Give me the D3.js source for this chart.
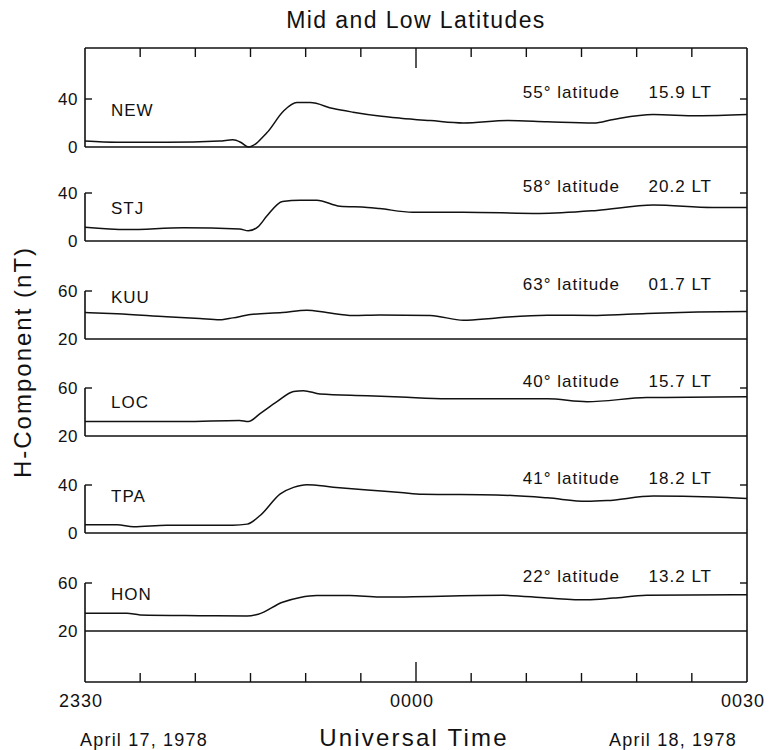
<!DOCTYPE html>
<html>
<head>
<meta charset="utf-8">
<script src="https://cdn.jsdelivr.net/npm/d3@7"></script>
<style>
  body { margin: 0; background: #fff; }
  text { font-family: "Liberation Sans", Arial, Helvetica, sans-serif; fill: #111; }
</style>
</head>
<body>
<div id="chart"></div>
<script>
// minutes after 2330 UT on April 17, 1978
const stations = ["NEW", "STJ", "KUU", "LOC", "TPA", "HON"];
const latitudes = [55, 58, 63, 40, 41, 22];
const localTimes = ["15.9", "20.2", "01.7", "15.7", "18.2", "13.2"];
const lowTicks = [0, 0, 20, 20, 0, 20];
const highTicks = [40, 40, 60, 60, 40, 60];

const timeTickLabels = ["2330", "0000", "0030"];

// H-component (nT), [minute, value]
const newH = [[0, 5], [2.9, 4], [7.4, 4], [12.2, 5], [13.4, 6], [14.1, 4], [14.8, 0],
  [16.5, 12], [18, 30], [19.2, 37], [20.4, 37], [22.5, 32], [24.3, 29], [26.5, 26],
  [28.6, 24], [31.3, 22], [34.3, 20], [38.3, 22], [41.9, 21], [46.1, 20], [47.9, 23],
  [51.5, 27], [55.5, 26], [60, 27]];
const stjH = [[0, 11.5], [3.8, 9.5], [8.9, 11], [14, 10], [14.8, 8.5], [15.7, 12],
  [16.5, 21], [17.9, 33], [19.5, 34], [21, 34], [23.1, 29], [25.6, 28], [26.7, 27],
  [29.7, 24], [34.3, 24], [41.2, 23], [46.4, 25.5], [51.5, 30], [56.9, 28], [60, 28]];
const kuuH = [[0, 42], [2.9, 41], [7.4, 38.5], [10.4, 37], [12.2, 36], [13.4, 37.6],
  [15, 40.4], [17.9, 42], [20.1, 44], [21.9, 42], [24.3, 39.6], [26.7, 40], [31.3, 39.6],
  [34.3, 35.6], [37.3, 37.6], [41.9, 39.8], [46.4, 39.6], [50.9, 41.3], [55.5, 42.4], [60, 43]];
const locH = [[0, 32], [8.9, 32], [14, 33], [14.8, 32], [15.9, 38.9], [17.4, 48.6],
  [18.9, 57], [19.8, 57.8], [21.3, 55], [25.6, 53.6], [28.6, 52.5], [32.8, 51], [41.9, 51],
  [45.5, 48.6], [50.9, 52], [60, 52.8]];
const tpaH = [[0, 6.8], [2.9, 6.8], [4.4, 5.3], [7.4, 6.5], [13.4, 6.5], [14.7, 7.4],
  [15.9, 14.8], [17.7, 32.6], [18.9, 38], [20.1, 40.3], [22.5, 38.2], [25.6, 35.8],
  [28.6, 33.8], [30.6, 32.3], [37.3, 31.7], [41.9, 29.3], [45.5, 26.4], [47.3, 27],
  [51.5, 30.8], [56.9, 30], [60, 28.7]];
const honH = [[0, 34.8], [3.8, 34.8], [5, 33.4], [10.4, 32.8], [14.7, 32.5], [15.7, 34],
  [17.9, 44], [19.5, 48], [21, 49.6], [24, 49.6], [26.7, 48.3], [37.9, 49.7], [41.9, 47.5],
  [45.5, 46], [47.9, 47.5], [50.9, 49.7], [60, 50.3]];
const series = [newH, stjH, kuuH, locH, tpaH, honH];

// layout
const W = 773, H = 750;
const fLeft = 85, fRight = 747, fTop = 48, fBottom = 682;
const panelBase = [147, 241, 339, 436, 533, 631];
const panelHeight = 48;
const nameOffset = [17, 21, 12, 20, 17, 17];

const svg = d3.select("#chart").append("svg")
  .attr("width", W).attr("height", H);

const x = d3.scaleLinear().domain([0, 60]).range([fLeft, fRight]);
const minuteTicks = d3.range(0, 61, 5);

const ink = (sel) => sel.attr("stroke", "#111").attr("fill", "none");

// title
svg.append("text")
  .attr("x", 416).attr("y", 28)
  .attr("text-anchor", "middle")
  .style("font-size", "23px")
  .style("letter-spacing", "1.4px")
  .text("Mid and Low Latitudes");

// top and bottom borders with time ticks
[fTop, fBottom].forEach((yy, k) => {
  const dir = k === 0 ? 1 : -1;
  svg.append("line").call(ink)
    .attr("x1", fLeft).attr("x2", fRight).attr("y1", yy).attr("y2", yy)
    .attr("stroke-width", 1.6);
  svg.selectAll(null).data(minuteTicks.slice(1, -1)).enter()
    .append("line").call(ink)
    .attr("x1", (d) => x(d)).attr("x2", (d) => x(d))
    .attr("y1", yy)
    .attr("y2", (d) => yy + dir * (d === 30 ? 20 : 9))
    .attr("stroke-width", 1.4);
});

// right border
svg.append("line").call(ink)
  .attr("x1", fRight).attr("x2", fRight).attr("y1", fTop).attr("y2", fBottom)
  .attr("stroke-width", 1.6);

// panels
stations.forEach((name, i) => {
  const base = panelBase[i];
  const y = d3.scaleLinear()
    .domain([lowTicks[i], highTicks[i]])
    .range([base, base - panelHeight]);
  const yTop = y(highTicks[i]);
  const g = svg.append("g");

  // baseline
  g.append("line").call(ink)
    .attr("x1", fLeft).attr("x2", fRight)
    .attr("y1", base).attr("y2", base)
    .attr("stroke-width", 1.6);

  // left axis segment
  const axTop = i === 0 ? fTop : yTop;
  const axBottom = i === stations.length - 1 ? fBottom : base;
  g.append("line").call(ink)
    .attr("x1", fLeft).attr("x2", fLeft)
    .attr("y1", axTop).attr("y2", axBottom)
    .attr("stroke-width", 1.6);
  g.append("line").call(ink)
    .attr("x1", fLeft).attr("x2", fLeft + 7)
    .attr("y1", yTop).attr("y2", yTop)
    .attr("stroke-width", 1.4);
  g.append("line").call(ink)
    .attr("x1", fRight - 7).attr("x2", fRight)
    .attr("y1", yTop).attr("y2", yTop)
    .attr("stroke-width", 1.4);

  // tick labels
  g.selectAll(null).data([lowTicks[i], highTicks[i]]).enter()
    .append("text")
    .attr("x", fLeft - 7)
    .attr("y", (d) => y(d))
    .attr("dy", "0.36em")
    .attr("text-anchor", "end")
    .style("font-size", "17px")
    .style("letter-spacing", "0.5px")
    .text((d) => d);

  // station name
  g.append("text")
    .attr("x", 111).attr("y", yTop + nameOffset[i])
    .style("font-size", "17px")
    .style("letter-spacing", "1px")
    .text(name);

  // latitude and local time
  g.append("text")
    .attr("x", 620).attr("y", yTop - 1)
    .attr("text-anchor", "end")
    .style("font-size", "17px")
    .style("letter-spacing", "1px")
    .text(`${latitudes[i]}° latitude`);
  g.append("text")
    .attr("x", 712).attr("y", yTop - 1)
    .attr("text-anchor", "end")
    .style("font-size", "17px")
    .style("letter-spacing", "1px")
    .text(`${localTimes[i]} LT`);

  // trace
  g.append("path").datum(series[i]).call(ink)
    .attr("stroke-width", 1.5)
    .attr("stroke-linejoin", "round")
    .attr("d", d3.line()
      .x((d) => x(d[0]))
      .y((d) => y(d[1]))
      .curve(d3.curveMonotoneX));
});

// time labels
svg.selectAll(".tlab").data([0, 30, 60]).enter()
  .append("text")
  .attr("class", "tlab")
  .attr("x", (d) => x(d) - 4)
  .attr("y", 707)
  .attr("text-anchor", "middle")
  .style("font-size", "18px")
  .style("letter-spacing", "1px")
  .text((d, j) => timeTickLabels[j]);

svg.append("text")
  .attr("x", 414).attr("y", 746)
  .attr("text-anchor", "middle")
  .style("font-size", "24px")
  .style("letter-spacing", "2.2px")
  .text("Universal Time");

svg.append("text")
  .attr("x", 144).attr("y", 746)
  .attr("text-anchor", "middle")
  .style("font-size", "18px")
  .style("letter-spacing", "1.2px")
  .text("April 17, 1978");

svg.append("text")
  .attr("x", 673).attr("y", 746)
  .attr("text-anchor", "middle")
  .style("font-size", "18px")
  .style("letter-spacing", "1.2px")
  .text("April 18, 1978");

// y axis title
svg.append("text")
  .attr("transform", "translate(31,362) rotate(-90)")
  .attr("text-anchor", "middle")
  .style("font-size", "24px")
  .style("letter-spacing", "2px")
  .text("H-Component (nT)");
</script>
</body>
</html>
